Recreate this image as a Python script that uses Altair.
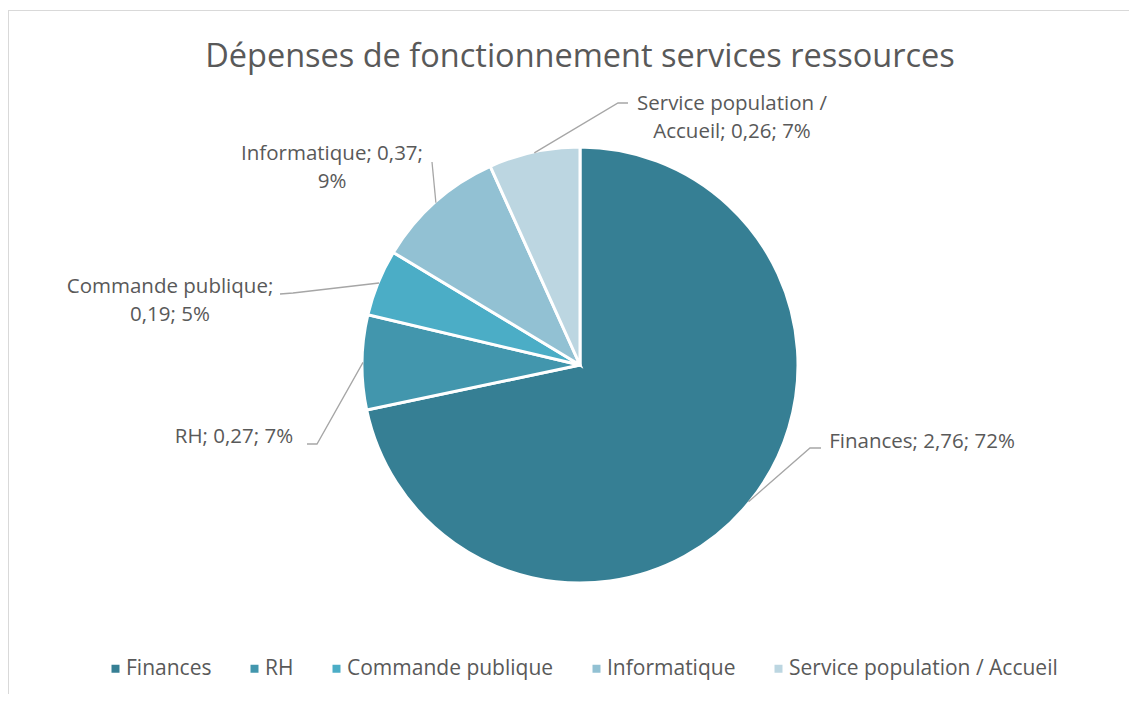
import altair as alt
import pandas as pd
import numpy as np

# ---- data ----
categories = ["Finances", "RH", "Commande publique", "Informatique", "Service population / Accueil"]
values = [2.76, 0.27, 0.19, 0.37, 0.26]
percent_labels = ["72%", "7%", "5%", "9%", "7%"]
value_labels = ["2,76", "0,27", "0,19", "0,37", "0,26"]
colors = ["#367f94", "#4296ad", "#4badc6", "#92c1d3", "#bcd6e1"]

title_text = "Dépenses de fonctionnement services ressources"

# ---- layout / style (chart pixel coords) ----
W, H = 1121, 686
CX, CY, R = 572, 357, 218
FONT = "Open Sans"
TXT = "#595959"

label_text = [
    "Finances; 2,76; 72%",
    "RH; 0,27; 7%",
    "Commande publique;\n0,19; 5%",
    "Informatique; 0,37;\n9%",
    "Service population /\nAccueil; 0,26; 7%",
]
label_pos = [(914, 434), (226, 429), (162, 279), (324, 146), (724, 96)]
leader_elbow = [[(802, 440), (813, 440)],
                [(309, 436), (299, 436)],
                [(285, 285), (272, 286)],
                [(424, 154)],
                [(610, 95), (620, 95)]]

df = pd.DataFrame({"cat": categories, "value": values, "order": range(len(categories))})

# leader lines: start at arc edge (mid-angle from the data)
total = sum(values)
cum = np.cumsum([0] + values)
rows = []
for i, c in enumerate(categories):
    mid = (cum[i] + cum[i + 1]) / 2 / total * 2 * np.pi
    sx = CX + (R - 1) * np.sin(mid)
    sy = CY - (R - 1) * np.cos(mid)
    pts = [(sx, sy)] + leader_elbow[i]
    for j, (x, y) in enumerate(pts):
        rows.append({"cat": c, "k": j, "x": x, "y": y})
lead_df = pd.DataFrame(rows)

lab_df = pd.DataFrame({"cat": categories, "t": label_text,
                       "x": [p[0] for p in label_pos], "y": [p[1] for p in label_pos]})

pie = alt.Chart(df).mark_arc(radius=R, stroke="white", strokeWidth=3).encode(
    theta=alt.Theta("value:Q", stack=True),
    order=alt.Order("order:Q"),
    color=alt.Color("cat:N", scale=alt.Scale(domain=categories, range=colors),
                    sort=categories,
                    legend=alt.Legend(title=None, orient="none", direction="horizontal",
                                      legendX=97, legendY=650, symbolType="square",
                                      symbolSize=64, symbolStrokeWidth=0,
                                      labelFont=FONT, labelFontSize=21, labelColor=TXT,
                                      labelLimit=0, columnPadding=32, labelOffset=0)),
    x=alt.value(CX), y=alt.value(CY),
)

leaders = alt.Chart(lead_df).mark_line(color="#a6a6a6", strokeWidth=1.3).encode(
    x=alt.X("x:Q", scale=None), y=alt.Y("y:Q", scale=None),
    detail="cat:N", order="k:Q",
)

labels = alt.Chart(lab_df).mark_text(font=FONT, fontSize=20.5, color=TXT, align="center",
                                     baseline="middle", lineBreak="\n", lineHeight=28).encode(
    x=alt.X("x:Q", scale=None), y=alt.Y("y:Q", scale=None), text="t:N",
)

title = alt.Chart(pd.DataFrame({"t": [title_text]})).mark_text(
    font=FONT, fontSize=32.5, color=TXT, align="center", baseline="middle").encode(
    x=alt.value(572), y=alt.value(49), text="t:N")

border_top = alt.Chart(pd.DataFrame({"a": [0]})).mark_rule(color="#d9d9d9", strokeWidth=1).encode(
    x=alt.value(0), x2=alt.value(W), y=alt.value(2.5))
border_left = alt.Chart(pd.DataFrame({"a": [0]})).mark_rule(color="#d9d9d9", strokeWidth=1).encode(
    x=alt.value(0.5), y=alt.value(2), y2=alt.value(H))

chart = alt.layer(border_top, border_left, pie, leaders, labels, title).properties(
    width=W, height=H, padding=0, autosize=alt.AutoSizeParams(type="none"),
    background="white",
).configure_view(stroke=None)

chart.save("out.html", embed_options={"renderer": "svg", "actions": False})
